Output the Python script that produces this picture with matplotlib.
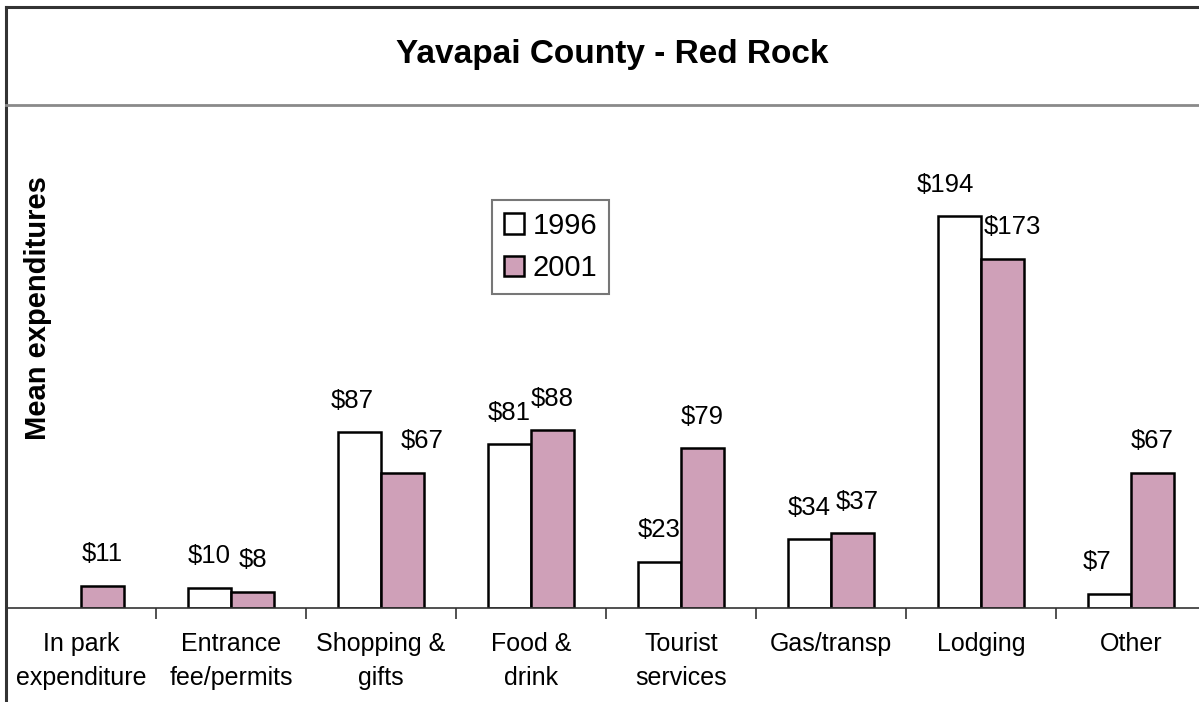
import numpy as np
import matplotlib.pyplot as plt
from matplotlib.lines import Line2D

plt.rcParams['font.family'] = ['Liberation Sans', 'DejaVu Sans']

categories = ['In park\nexpenditure', 'Entrance\nfee/permits', 'Shopping &\ngifts',
              'Food &\ndrink', 'Tourist\nservices', 'Gas/transp', 'Lodging', 'Other']
vals_1996 = [np.nan, 10, 87, 81, 23, 34, 194, 7]
vals_2001 = [11, 8, 67, 88, 79, 37, 173, 67]
series_names = ['1996', '2001']

# sideways nudges (points) for labels that sit off-centre in the original
label_nudge = {(0, 2): -5, (1, 2): 14, (0, 6): -10, (1, 6): 7, (0, 7): -9, (1, 5): 3}

W, H = 1199, 702
fig = plt.figure(figsize=(W / 100, H / 100), dpi=100)

# plot area in pixel terms (axis runs off the right edge like the original)
ax = fig.add_axes([6 / W, 94 / H, 1200 / W, 505 / H])
x = np.arange(len(categories)) + 0.5
bw = 0.287
pink = '#cfa0b8'

b1 = ax.bar(x - bw / 2, vals_1996, bw, color='white', edgecolor='black', linewidth=1.8)
b2 = ax.bar(x + bw / 2, vals_2001, bw, color=pink, edgecolor='black', linewidth=1.8)

for si, (bars, vals) in enumerate(((b1, vals_1996), (b2, vals_2001))):
    for ci, (rect, v) in enumerate(zip(bars, vals)):
        if np.isnan(v):
            continue
        ax.annotate('$%d' % v, (rect.get_x() + rect.get_width() / 2, v),
                    xytext=(label_nudge.get((si, ci), 0), 14), textcoords='offset points',
                    ha='center', va='bottom', fontsize=18.5)

ax.set_xlim(0, len(categories))
ax.set_ylim(0, 250)
for s in ('left', 'top', 'right'):
    ax.spines[s].set_visible(False)
ax.spines['bottom'].set_linewidth(1.2)
ax.spines['bottom'].set_color('#333333')
ax.set_yticks([])
ax.set_xticks(x)
ax.set_xticklabels(categories, fontsize=18, linespacing=1.55)
ax.tick_params(axis='x', which='major', length=0, pad=17)
ax.set_xticks(np.arange(len(categories) + 1), minor=True)
ax.tick_params(axis='x', which='minor', length=8, width=1.2, color='#333333')

# chart border and title separator
fig.add_artist(Line2D([6 / W, 6 / W], [0, 1 - 7 / H], color='#333333', lw=2.2))
fig.add_artist(Line2D([6 / W, 1], [1 - 7 / H, 1 - 7 / H], color='#333333', lw=2.2))
fig.add_artist(Line2D([6 / W, 1], [1 - 105 / H, 1 - 105 / H], color='#8a8a8a', lw=2))

fig.text(612 / W, 1 - 55 / H, 'Yavapai County - Red Rock', ha='center', va='center',
         fontsize=24, fontweight='bold')
fig.text(38 / W, 1 - 308 / H, 'Mean expenditures', rotation=90, ha='center', va='center',
         fontsize=21, fontweight='bold')

leg = fig.legend([b1, b2], series_names, loc='upper left',
                 bbox_to_anchor=(492 / W, 1 - 200 / H), fontsize=21,
                 fancybox=False, handlelength=0.7, handleheight=0.7,
                 handletextpad=0.3, borderpad=0.4, labelspacing=0.5,
                 borderaxespad=0)
leg.get_frame().set_edgecolor('#555555')
leg.get_frame().set_linewidth(1.5)

fig.savefig('out.png', dpi=100)
